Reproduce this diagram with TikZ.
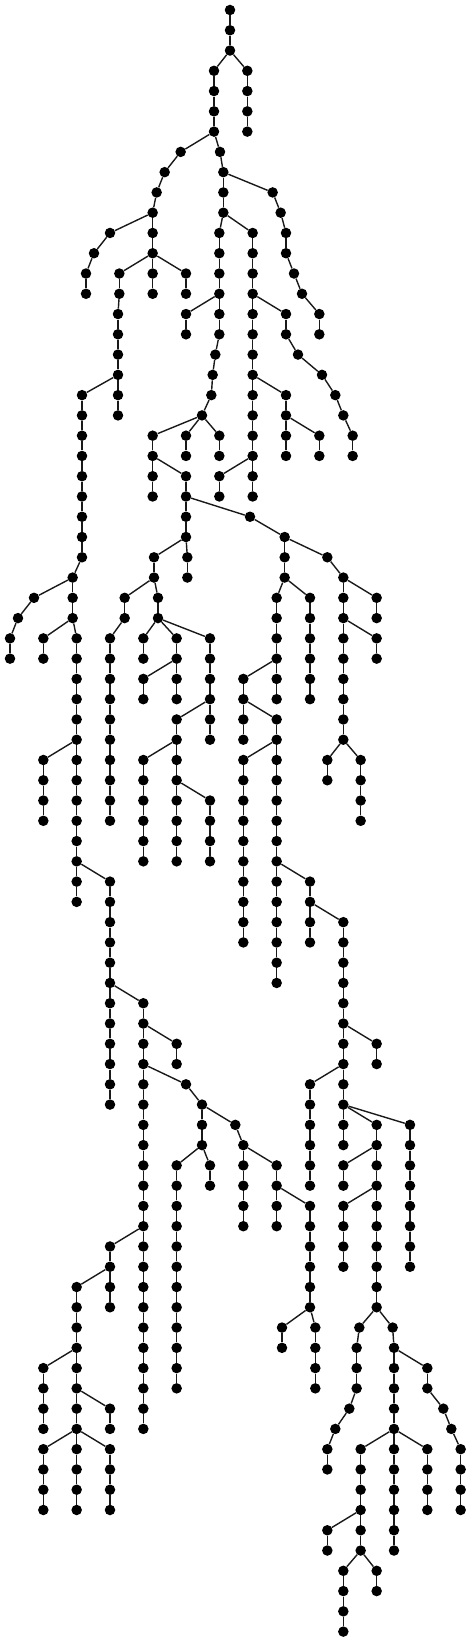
\documentclass[tikz,border=0pt]{standalone}
\usepackage{tikz}

\tikzset{
  dot/.style={circle,fill=black,inner sep=0pt,minimum size=10.5pt},
  treeline/.style={line width=1.4pt,black!90}
}

% vertical run of nodes n<x>-<row> from row #2 to row #3
\newcommand{\vchain}[3]{%
  \foreach \row in {#2,...,#3}
    \node[dot] (n#1-\row) at (#1,\row) {};
  \foreach \row [remember=\row as \prev (initially #2)] in {#2,...,#3}
    {\ifnum\row>#2 \draw[treeline] (n#1-\prev) -- (n#1-\row);\fi}%
}

\begin{document}
\begin{tikzpicture}[x=0.33333pt,y=-20.27pt]

    \useasboundingbox (0,-0.4933) rectangle (1413,80.513);

    % TRUNK
    \vchain{690}{0}{2}
    \vchain{742}{3}{6}
    \vchain{642}{3}{6}

    % LEFT PART
    \vchain{542}{7}{7}
    \vchain{494}{8}{8}
    \vchain{470}{9}{9}
    \vchain{458}{10}{14}
    \vchain{330}{11}{11}
    \vchain{282}{12}{12}
    \vchain{258}{13}{14}
    \vchain{358}{13}{14}
    \vchain{558}{13}{14}
    \vchain{354}{15}{20}
    \vchain{246}{19}{27}
    \vchain{218}{28}{30}
    \vchain{102}{29}{29}
    \vchain{54}{30}{30}
    \vchain{30}{31}{32}
    \vchain{130}{31}{32}
    \vchain{230}{31}{44}
    \vchain{130}{37}{40}
    \vchain{330}{43}{54}
    \vchain{430}{49}{70}
    \vchain{530}{51}{52}
    \vchain{558}{53}{53}
    \vchain{606}{54}{56}
    \vchain{706}{55}{55}
    \vchain{730}{56}{60}
    \vchain{530}{57}{68}
    \vchain{630}{57}{58}
    \vchain{830}{57}{60}
    \vchain{930}{59}{64}
    \vchain{846}{65}{66}
    \vchain{946}{65}{68}
    \vchain{330}{61}{64}
    \vchain{230}{63}{74}
    \vchain{130}{67}{70}
    \vchain{330}{69}{70}
    \vchain{130}{71}{74}
    \vchain{330}{71}{74}

    % RIGHT PART
    \vchain{660}{7}{7}
    \vchain{670}{8}{10}
    \vchain{818}{9}{9}
    \vchain{842}{10}{10}
    \vchain{858}{11}{12}
    \vchain{882}{13}{13}
    \vchain{906}{14}{14}
    \vchain{958}{15}{16}
    \vchain{658}{11}{16}
    \vchain{558}{15}{16}
    \vchain{646}{17}{17}
    \vchain{638}{18}{18}
    \vchain{634}{19}{19}
    \vchain{606}{20}{20}
    \vchain{758}{11}{24}
    \vchain{858}{15}{16}
    \vchain{894}{17}{17}
    \vchain{966}{18}{18}
    \vchain{1006}{19}{19}
    \vchain{1030}{20}{20}
    \vchain{1058}{21}{22}
    \vchain{858}{19}{22}
    \vchain{958}{21}{22}
    \vchain{658}{23}{24}
    \vchain{458}{21}{24}
    \vchain{558}{21}{22}
    \vchain{658}{21}{22}
    \vchain{558}{23}{26}
    \vchain{750}{25}{25}
    \vchain{854}{26}{28}
    \vchain{462}{27}{28}
    \vchain{562}{27}{28}
    \vchain{374}{29}{30}
    \vchain{330}{31}{40}
    \vchain{474}{29}{30}
    \vchain{430}{31}{32}
    \vchain{530}{31}{34}
    \vchain{430}{33}{34}
    \vchain{630}{31}{36}
    \vchain{530}{35}{42}
    \vchain{430}{37}{42}
    \vchain{630}{39}{42}
    \vchain{982}{27}{27}
    \vchain{1030}{28}{36}
    \vchain{1130}{29}{30}
    \vchain{1130}{31}{32}
    \vchain{982}{37}{38}
    \vchain{1082}{37}{40}
    \vchain{830}{29}{34}
    \vchain{930}{29}{34}
    \vchain{730}{33}{36}
    \vchain{830}{35}{48}
    \vchain{730}{37}{46}
    \vchain{930}{43}{46}
    \vchain{1030}{45}{56}
    \vchain{1130}{51}{52}
    \vchain{930}{53}{58}
    \vchain{1130}{55}{64}
    \vchain{1030}{57}{58}
    \vchain{1030}{59}{62}
    \vchain{1230}{55}{62}
    \vchain{1078}{65}{65}
    \vchain{1070}{66}{68}
    \vchain{1048}{69}{69}
    \vchain{1006}{70}{70}
    \vchain{982}{71}{72}
    \vchain{1178}{65}{65}
    \vchain{1182}{66}{76}
    \vchain{1282}{67}{68}
    \vchain{1330}{69}{69}
    \vchain{1354}{70}{70}
    \vchain{1382}{71}{74}
    \vchain{1082}{71}{76}
    \vchain{982}{75}{76}
    \vchain{1030}{77}{80}
    \vchain{1130}{77}{78}
    \vchain{1282}{71}{74}

    % Branching links (parent/child)
    \foreach \a/\b in {690-2/742-3, 690-2/642-3, 642-6/542-7, 542-7/494-8,
        494-8/470-9, 470-9/458-10, 642-6/660-7, 660-7/670-8,
        458-10/330-11, 330-11/282-12, 282-12/258-13, 458-12/358-13,
        458-12/558-13, 358-14/354-15, 354-18/246-19, 246-27/218-28,
        218-28/102-29, 102-29/54-30, 54-30/30-31, 218-30/130-31,
        218-30/230-31, 230-36/130-37, 230-42/330-43, 330-48/430-49,
        430-50/530-51, 430-52/558-53, 558-53/606-54, 606-54/706-55,
        706-55/730-56, 606-56/530-57, 606-56/630-57, 730-56/830-57,
        830-58/930-59, 930-64/846-65, 930-64/946-65, 430-60/330-61,
        330-62/230-63, 230-66/130-67, 230-68/330-69, 230-70/130-71,
        230-70/330-71}
      \draw[treeline] (n\a) -- (n\b);

    \foreach \a/\b in {670-8/818-9, 818-9/842-10, 842-10/858-11,
        858-12/882-13, 882-13/906-14, 906-14/958-15, 670-10/658-11,
        658-14/558-15, 658-16/646-17, 646-17/638-18, 638-18/634-19,
        634-19/606-20, 670-10/758-11, 758-14/858-15, 858-16/894-17,
        894-17/966-18, 966-18/1006-19, 1006-19/1030-20, 1030-20/1058-21,
        758-18/858-19, 858-20/958-21, 758-22/658-23, 606-20/458-21,
        606-20/558-21, 606-20/658-21, 458-22/558-23, 558-24/750-25,
        750-25/854-26, 558-26/462-27, 558-26/562-27, 462-28/374-29,
        374-30/330-31, 462-28/474-29, 474-30/430-31, 474-30/530-31,
        530-32/430-33, 474-30/630-31, 630-34/530-35, 530-36/430-37,
        530-38/630-39, 854-26/982-27, 982-27/1030-28, 1030-28/1130-29,
        1030-30/1130-31, 1030-36/982-37, 1030-36/1082-37, 854-28/830-29,
        854-28/930-29, 830-32/730-33, 730-34/830-35, 830-36/730-37,
        830-42/930-43, 930-44/1030-45, 1030-50/1130-51, 1030-52/930-53,
        1030-54/1130-55, 1030-54/1230-55, 1130-56/1030-57, 1130-58/1030-59,
        1130-64/1078-65, 1078-65/1070-66, 1070-68/1048-69, 1048-69/1006-70,
        1006-70/982-71, 1130-64/1178-65, 1178-65/1182-66, 1182-66/1282-67,
        1282-68/1330-69, 1330-69/1354-70, 1354-70/1382-71, 1182-70/1082-71,
        1182-70/1282-71, 1082-74/982-75, 1082-76/1030-77, 1082-76/1130-77}
      \draw[treeline] (n\a) -- (n\b);

\end{tikzpicture}
\end{document}
